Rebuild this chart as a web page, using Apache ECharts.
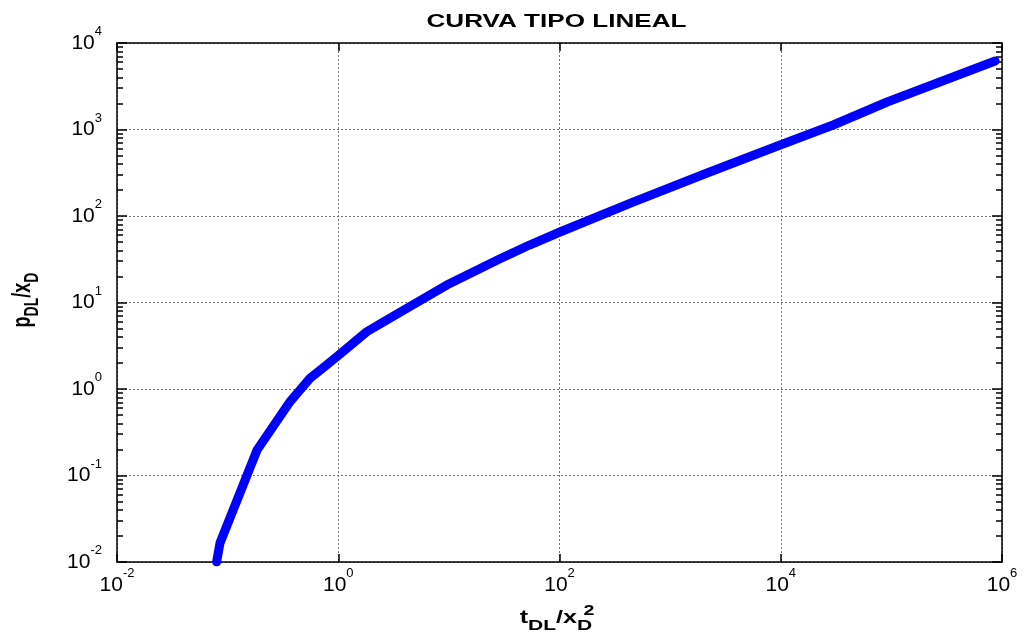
<!DOCTYPE html>
<html>
<head>
<meta charset="utf-8">
<script src="https://cdn.jsdelivr.net/npm/echarts@6/dist/echarts.min.js"></script>
<style>
  html, body { margin: 0; padding: 0; background: #fff; }
  #chart { width: 1024px; height: 636px; }
</style>
</head>
<body>
<div id="chart"></div>
<script>
// Type curve, linear flow: dimensionless pressure vs dimensionless time
const tDL = [0.0795, 0.0853, 0.1846, 0.366, 0.45, 0.556, 0.75, 0.969, 1.3, 1.81, 2.5, 4.16, 9.57, 29.0, 54.2, 101, 462, 2160, 9880, 29800, 91600, 867000];
const pDL = [0.0100, 0.0166, 0.197, 0.713, 0.97, 1.33, 1.81, 2.36, 3.23, 4.59, 5.87, 8.57, 15.9, 32.0, 46.5, 65.3, 145, 314, 662, 1127, 2080, 6190];

// Axis ticks (decade values)
const xTicks = [1e-2, 1e0, 1e2, 1e4, 1e6];
const yTicks = [1e-2, 1e-1, 1e0, 1e1, 1e2, 1e3, 1e4];
const yMinorSteps = [2, 3, 4, 5, 6, 7, 8, 9];

const yMinor = [];
for (let i = 0; i < yTicks.length - 1; i++) {
  for (const m of yMinorSteps) yMinor.push(+(yTicks[i] * m).toPrecision(6));
}

const FONT = '"Liberation Sans", Arial, Helvetica, sans-serif';

// "10" with the exponent raised above it
const powRich = {
  b: { fontFamily: FONT, fontSize: 21, color: '#000', lineHeight: 36 },
  s: { fontFamily: FONT, fontSize: 13, color: '#000', lineHeight: 13, verticalAlign: 'top' }
};
const powLabel = v => '{b|10}{s|' + Math.round(Math.log10(v)) + '}';

const boxLine = { show: true, onZero: false, lineStyle: { color: '#000', width: 1.5 } };
const gridLine = { show: true, lineStyle: { color: '#707070', width: 1, type: [2, 2] } };

const chart = echarts.init(document.getElementById('chart'), null, { renderer: 'canvas' });

chart.setOption({
  animation: false,
  backgroundColor: '#fff',
  grid: { left: 117, right: 22, top: 43, bottom: 74, containLabel: false },
  xAxis: [
    {
      type: 'log', logBase: 10, min: 1e-2, max: 1e6, position: 'bottom',
      axisLine: boxLine,
      axisTick: { show: true, inside: true, length: 8, customValues: xTicks, lineStyle: { color: '#000', width: 1.5 } },
      axisLabel: { show: true, customValues: xTicks, formatter: powLabel, rich: powRich, margin: 5 },
      splitLine: gridLine,
      minorTick: { show: false }, minorSplitLine: { show: false }
    },
    {
      type: 'log', logBase: 10, min: 1e-2, max: 1e6, position: 'top',
      axisLine: boxLine,
      axisTick: { show: true, inside: true, length: 8, customValues: xTicks, lineStyle: { color: '#000', width: 1.5 } },
      axisLabel: { show: false },
      splitLine: { show: false }
    }
  ],
  yAxis: [
    {
      type: 'log', logBase: 10, min: 1e-2, max: 1e4, position: 'left',
      axisLine: boxLine,
      axisTick: { show: true, inside: true, length: 10, customValues: yTicks, lineStyle: { color: '#000', width: 1.5 } },
      axisLabel: { show: true, customValues: yTicks, formatter: powLabel, rich: powRich, margin: 15 },
      splitLine: gridLine,
      minorTick: { show: false }, minorSplitLine: { show: false }
    },
    {
      type: 'log', logBase: 10, min: 1e-2, max: 1e4, position: 'right',
      axisLine: boxLine,
      axisTick: { show: true, inside: true, length: 10, customValues: yTicks, lineStyle: { color: '#000', width: 1.5 } },
      axisLabel: { show: false },
      splitLine: { show: false }
    },
    {
      type: 'log', logBase: 10, min: 1e-2, max: 1e4, position: 'left',
      axisLine: { show: false },
      axisTick: { show: true, inside: true, length: 6, customValues: yMinor, lineStyle: { color: '#000', width: 1.5 } },
      axisLabel: { show: false },
      splitLine: { show: false }
    },
    {
      type: 'log', logBase: 10, min: 1e-2, max: 1e4, position: 'right',
      axisLine: { show: false },
      axisTick: { show: true, inside: true, length: 6, customValues: yMinor, lineStyle: { color: '#000', width: 1.5 } },
      axisLabel: { show: false },
      splitLine: { show: false }
    }
  ],
  series: [
    {
      type: 'line',
      xAxisIndex: 0, yAxisIndex: 0,
      data: tDL.map((t, i) => [t, pDL[i]]),
      showSymbol: false,
      smooth: false,
      clip: true,
      lineStyle: { color: '#0000ff', width: 9, cap: 'round', join: 'round' }
    }
  ],
  graphic: [
    {
      type: 'text', x: 556.5, y: 22, scaleX: 1.45, z: 10,
      style: {
        text: 'CURVA TIPO LINEAL', fill: '#000',
        font: 'bold 18px ' + FONT, align: 'center', verticalAlign: 'middle'
      }
    },
    {
      type: 'text', x: 556, y: 624, scaleX: 1.4, z: 10,
      style: {
        text: '{m|t}{s|DL}{m|/x}{s|D}', align: 'center', verticalAlign: 'middle',
        rich: {
          m: { fontFamily: FONT, fontWeight: 'bold', fontSize: 18, lineHeight: 18, padding: [0, 0, 12, 0], fill: '#000' },
          s: { fontFamily: FONT, fontWeight: 'bold', fontSize: 15, lineHeight: 15, verticalAlign: 'bottom', fill: '#000' }
        }
      }
    },
    {
      type: 'text', x: 589, y: 611, scaleX: 1.4, z: 10,
      style: { text: '2', fill: '#000', font: 'bold 14px ' + FONT, align: 'center', verticalAlign: 'middle' }
    },
    {
      type: 'text', x: 30, y: 300, rotation: Math.PI / 2, scaleY: 1.4, z: 10,
      style: {
        text: '{m|p}{s|DL}{m|/x}{s|D}', align: 'center', verticalAlign: 'middle',
        rich: {
          m: { fontFamily: FONT, fontWeight: 'bold', fontSize: 18, lineHeight: 18, padding: [0, 0, 10, 0], fill: '#000' },
          s: { fontFamily: FONT, fontWeight: 'bold', fontSize: 14, lineHeight: 14, verticalAlign: 'bottom', fill: '#000' }
        }
      }
    }
  ]
});
</script>
</body>
</html>
